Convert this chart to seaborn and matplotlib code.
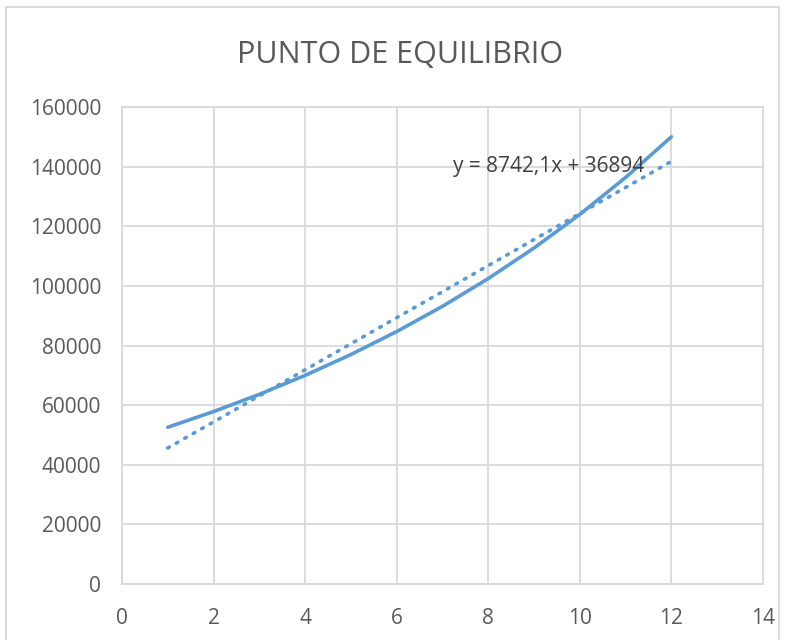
import numpy as np
import matplotlib
matplotlib.use("Agg")
import matplotlib.pyplot as plt
from matplotlib.patches import Rectangle
import seaborn as sns

# data
periodos = [1, 2, 3, 4, 5, 6, 7, 8, 9, 10, 11, 12]
valores = [52580, 57840, 63620, 69980, 76980, 84680,
           93150, 102460, 112710, 123980, 136380, 150010]
x_ticks = [0, 2, 4, 6, 8, 10, 12, 14]
y_ticks = [0, 20000, 40000, 60000, 80000, 100000, 120000, 140000, 160000]
titulo = "PUNTO DE EQUILIBRIO"
ecuacion = "y = 8742,1x + 36894"

sns.set_style("white")
plt.rcParams["font.family"] = ["Open Sans", "DejaVu Sans"]

azul = "#5B9BD5"
gris_txt = "#595959"
gris_grid = "#D9D9D9"

fig = plt.figure(figsize=(7.91, 6.4), dpi=100)
ax = fig.add_axes([122 / 791, 1 - 584 / 640, 641 / 791, 477 / 640])

sns.lineplot(x=periodos, y=valores, ax=ax, color=azul, linewidth=2.6,
             solid_capstyle="round")
sns.regplot(x=np.array(periodos), y=np.array(valores), ax=ax, scatter=False,
            ci=None, truncate=True,
            line_kws=dict(color=azul, linewidth=2.6, linestyle=(0, (0.5, 2.2)),
                          dash_capstyle="round"))

ax.set_xlim(0, 14)
ax.set_ylim(0, 160000)
ax.set_xticks(x_ticks)
ax.set_yticks(y_ticks)
ax.set_xticklabels([str(t) for t in x_ticks])
ax.set_yticklabels([str(t) for t in y_ticks])
ax.grid(True, color=gris_grid, linewidth=1.3)
ax.set_axisbelow(True)
for s in ax.spines.values():
    s.set_color(gris_grid)
    s.set_linewidth(1.3)
ax.tick_params(length=0, labelsize=15, labelcolor=gris_txt)
ax.tick_params(axis="x", pad=17)
ax.tick_params(axis="y", pad=15)
ax.set_xlabel("")
ax.set_ylabel("")

ax.text(7.23, 140000, ecuacion, fontsize=15, color="#404040",
        va="center", ha="left")

fig.text(400 / 791, 1 - 55 / 640, titulo, fontsize=22, color=gris_txt,
         ha="center", va="center")

# chart frame
fig.patches.append(Rectangle((6 / 791, -0.01), 773 / 791, 1 - 7 / 640 + 0.01,
                             transform=fig.transFigure, fill=False,
                             edgecolor=gris_grid, linewidth=1.3))

fig.savefig("out.png", dpi=100)
